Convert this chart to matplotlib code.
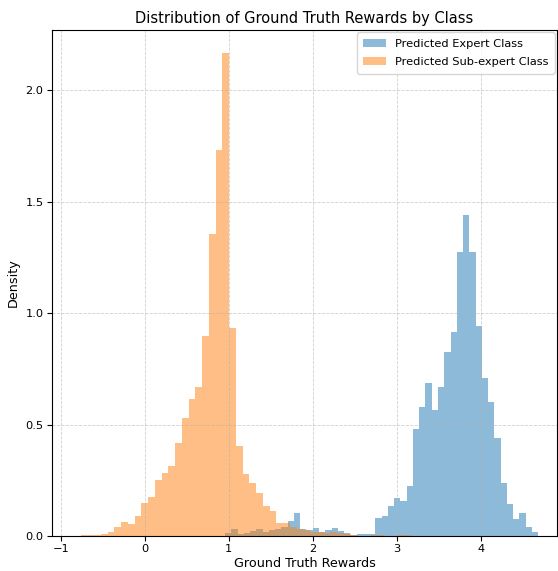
import numpy as np
import matplotlib
matplotlib.use('Agg')
import matplotlib.pyplot as plt

# bin layout (50 bins each)
expert_start, expert_width = 0.956, 0.0746
subexpert_start, subexpert_width = -0.764, 0.0804

# density per bin, left to right
expert_density = [
    0.013, 0.030, 0.008, 0.013, 0.022, 0.030, 0.017, 0.027, 0.030, 0.039,
    0.066, 0.104, 0.033, 0.027, 0.035, 0.018, 0.027, 0.037, 0.021, 0.012,
    0.006, 0.008, 0.008, 0.008, 0.082, 0.091, 0.135, 0.170, 0.158, 0.226,
    0.480, 0.580, 0.688, 0.566, 0.670, 0.826, 0.916, 1.272, 1.439, 1.276,
    0.942, 0.707, 0.601, 0.440, 0.238, 0.143, 0.075, 0.102, 0.039, 0.018,
]
subexpert_density = [
    0.003, 0.003, 0.003, 0.009, 0.018, 0.042, 0.063, 0.055, 0.091, 0.149,
    0.176, 0.252, 0.282, 0.315, 0.418, 0.529, 0.616, 0.668, 0.898, 1.356,
    1.730, 2.166, 0.933, 0.405, 0.278, 0.236, 0.194, 0.135, 0.113, 0.060,
    0.060, 0.040, 0.030, 0.025, 0.020, 0.018, 0.015, 0.018, 0.015, 0.010,
    0.003, 0.002, 0.002, 0.004, 0.004, 0.001, 0.001, 0.003, 0.003, 0.000,
]

labels = ['Predicted Expert Class', 'Predicted Sub-expert Class']


def edges_for(start, width, n):
    return start + width * np.arange(n + 1)


fig = plt.figure(figsize=(5.58, 5.71), dpi=100)
ax = fig.add_axes([0.0932, 0.0613, 0.9048, 0.8862])

e_edges = edges_for(expert_start, expert_width, len(expert_density))
s_edges = edges_for(subexpert_start, subexpert_width, len(subexpert_density))

ax.hist((e_edges[:-1] + e_edges[1:]) / 2, bins=e_edges, weights=expert_density,
        alpha=0.5, color='tab:blue', label=labels[0])
ax.hist((s_edges[:-1] + s_edges[1:]) / 2, bins=s_edges, weights=subexpert_density,
        alpha=0.5, color='tab:orange', label=labels[1])

ax.set_xlim(-1.104, 4.908)
ax.set_ylim(0, 2.27)
ax.set_title('Distribution of Ground Truth Rewards by Class', fontsize=10.5, pad=5)
ax.set_xlabel('Ground Truth Rewards', fontsize=9.2, labelpad=2)
ax.set_ylabel('Density', fontsize=9.2, labelpad=4)
ax.tick_params(labelsize=8.2, pad=2.5)
ax.legend(fontsize=8.2, loc='upper right', borderaxespad=0.2,
          labelspacing=0.78, borderpad=0.55, handlelength=2.0)
ax.grid(True, linestyle='--', alpha=0.6, linewidth=0.6)

fig.savefig('out.png', dpi=100)
